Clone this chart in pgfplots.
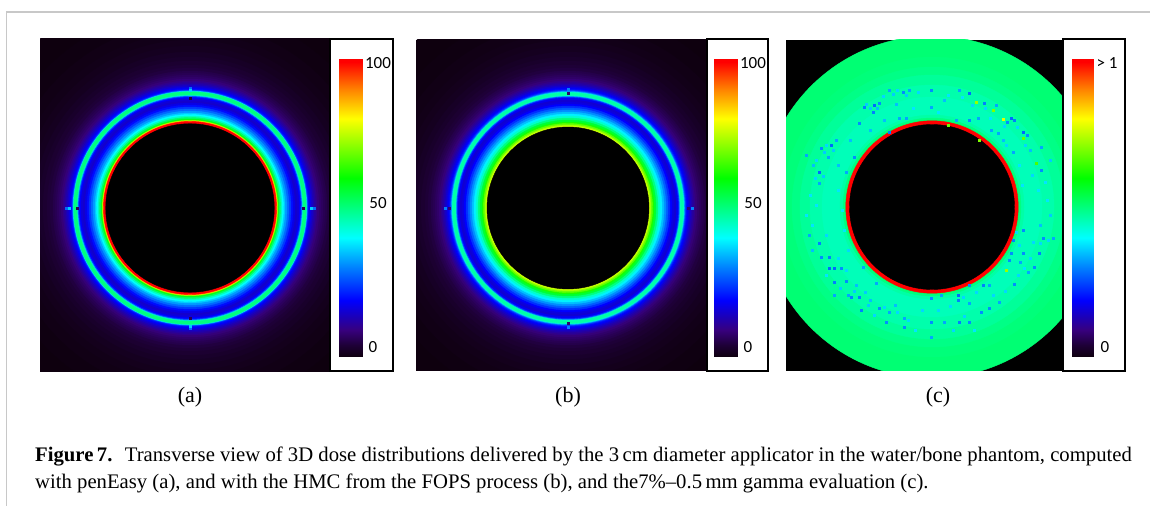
\documentclass[border=0pt]{standalone}
\usepackage{pgfplots}
\usepackage{pgfplotstable}
\usepackage{fontspec}
\pgfplotsset{compat=1.18}
\setmainfont{Liberation Serif}
\newfontfamily\barfont{Carlito}
\pgfplotsset{
  colormap={dose}{rgb255(0cm)=(14,0,14); rgb255(4cm)=(30,0,55); rgb255(9cm)=(55,0,125); rgb255(14cm)=(25,0,190); rgb255(19cm)=(0,0,255); rgb255(30cm)=(0,128,255); rgb255(40cm)=(0,255,255); rgb255(50cm)=(0,255,128); rgb255(60cm)=(0,255,0); rgb255(80cm)=(255,255,0); rgb255(90cm)=(255,128,0); rgb255(99cm)=(255,0,0); rgb255(100cm)=(255,0,0)},
  img/.style={scale only axis, hide axis, y dir=reverse, colormap name=dose, point meta min=0, point meta max=100, anchor=south west},
  discs/.style={scatter, only marks, mark=*, scatter src=explicit,
    mark options={line width=0.4pt},
    scatter/use mapped color={draw=mapped color, fill=mapped color},
    visualization depends on={\thisrow{r}\as\rr},
    scatter/@pre marker code/.append style={/tikz/mark size=\rr pt}},
  specks/.style={scatter, only marks, mark=square*, mark size=1.1pt, scatter src=explicit,
    mark options={line width=0.2pt},
    scatter/use mapped color={draw=mapped color, fill=mapped color}},
  cbar/.style={scale only axis, hide axis, colormap name=dose, point meta min=0, point meta max=100, xmin=0, xmax=1, ymin=0, ymax=100, anchor=south west},
}
\pgfplotstableread{
x y
0 0
1 0
0 100
1 100
}\barT
\pgfplotstableread{
x y r d
190 208 226 0
190 208 200 0.3
190 208 185 0.7
190 208 175 1
190 208 168 1.4
190 208 162 1.8
190 208 156 2.3
190 208 151 2.8
190 208 147 3.4
190 208 143 4
190 208 140 4.6
190 208 137 5.4
190 208 135 6
190 208 133 6.8
190 208 131 7.6
190 208 129 8.6
190 208 127 10
190 208 125.5 11.5
190 208 124 13
190 208 122.5 15
190 208 121 17
190 208 120 18.5
190 208 119 20
190 208 118 23
190 208 117.4 28
190 208 116.8 38
190 208 116.3 50
190 208 112.8 46
190 208 112.2 34
190 208 111.5 24
190 208 110.5 19
190 208 109 16
190 208 107 15
190 208 105 17
190 208 103 20
190 208 101 24
190 208 99 28
190 208 97 32
190 208 95 36
190 208 93.5 40
190 208 92 45
190 208 90.5 52
190 208 89 58
190 208 88 64
190 208 87.5 74
190 208 87 86
190 208 86.5 100
}\profA
\pgfplotstableread{
x y r d
568 208 226 0
568 208 200 0.3
568 208 185 0.7
568 208 175 1
568 208 168 1.4
568 208 162 1.8
568 208 156 2.3
568 208 151 2.8
568 208 147 3.4
568 208 143 4
568 208 140 4.6
568 208 137 5.4
568 208 135 6
568 208 133 6.8
568 208 131 7.6
568 208 129 8.6
568 208 127 10
568 208 125.5 11.5
568 208 124 13
568 208 122.5 15
568 208 121 17
568 208 120 18.5
568 208 119 20
568 208 118 23
568 208 117.2 27
568 208 116.5 34
568 208 115.8 44
568 208 115.2 47
568 208 112.3 45
568 208 111.7 32
568 208 111 23
568 208 110 18
568 208 108 15.5
568 208 106 16.5
568 208 104 19
568 208 102 23
568 208 100 27
568 208 98 31
568 208 96 35
568 208 94 39
568 208 92 44
568 208 90 50
568 208 88 56
568 208 86 62
568 208 84.5 68
568 208 83 73
568 208 82 76
}\profB
\pgfplotstableread{
x y r d
932 207 171 51
932 207 150 50.5
932 207 140 49.5
932 207 132 48
932 207 122 46.5
932 207 110 45.5
932 207 100 45.5
932 207 92 47
932 207 89 50
932 207 87 52
932 207 86.2 100
}\profC
% artefacts on the axes of the dose grid
\pgfplotstableread{
x y d
190 88 28
190 90 36
190 98 4
66 208 28
69 208 36
77 208 6
314 208 28
311 208 36
303 208 6
190 328 28
190 326 36
190 318 6
}\artA
\pgfplotstableread{
x y d
568 89 30
568 93 8
568 327 30
568 323 8
445 208 30
449 208 8
692 208 30
688 208 8
}\artB
\pgfplotstableread{
x y d
889 90 33
903 92 31
909 90 33
864 107 30
874 105 28
879 103 31
873 112 30
859 123 31
899 118 33
906 118 33
889 132 30
831 145 28
836 140 33
821 148 31
806 155 33
828 157 33
854 157 31
819 172 28
846 172 33
819 183 33
813 165 35
838 165 35
896 104 35
884 120 35
870 130 35
850 140 35
931 90 31
931 107 33
959 90 33
969 93 28
984 103 30
996 105 33
969 120 31
956 120 33
978 118 33
1011 118 28
1014 120 30
1007 122 31
991 130 33
998 133 33
1023 132 28
1027 135 31
1013 152 33
1041 147 33
1041 170 31
1030 150 35
1003 140 35
944 100 35
1050 160 36
809 235 33
819 243 30
821 257 31
829 257 30
829 268 28
834 268 28
863 267 33
834 282 30
846 281 31
834 295 33
848 295 33
851 297 30
859 297 30
876 283 33
879 308 31
861 310 30
889 312 33
886 322 31
904 318 33
904 327 31
841 268 31
812 250 35
856 285 35
870 300 35
895 305 35
958 295 28
958 300 30
941 295 33
931 298 31
931 322 31
944 322 33
959 322 30
969 322 31
931 337 33
969 285 31
983 285 30
989 285 33
1014 284 31
969 303 33
989 308 31
981 312 31
999 302 33
1011 253 31
1023 253 31
1039 253 30
1043 238 31
1053 238 33
1013 240 30
1023 230 31
1028 272 33
1034 267 31
1009 260 31
1020 262 33
1040 225 35
1050 215 36
866 104 36
870 108 36
877 108 35
893 94 36
897 90 37
906 95 36
883 96 37
824 152 36
833 150 36
826 145 37
816 160 37
823 176 36
815 178 37
810 195 38
806 215 38
816 205 38
838 190 38
842 210 38
844 230 38
812 225 38
826 235 37
848 250 37
838 258 37
846 270 37
826 275 38
840 288 36
854 291 36
865 292 36
868 305 36
874 315 37
884 307 37
897 312 37
908 320 37
915 330 38
922 310 37
938 310 37
950 306 37
963 297 37
976 292 37
953 330 37
964 316 37
974 330 38
993 295 37
1005 291 37
1018 275 37
1024 268 38
1040 243 37
1048 240 37
1033 242 37
1019 245 37
1030 258 37
1016 232 37
1047 200 38
1038 190 38
1022 185 38
1032 175 37
1045 182 38
1019 165 38
1025 145 37
1006 145 37
1017 127 37
1004 126 37
985 108 37
990 118 38
972 105 37
962 97 38
948 95 38
938 112 38
918 92 37
913 108 38
}\specC
\pgfplotstableread{
x y d
976 102 72
1003 119 78
993 110 70
1036 163 66
979 140 70
1023 138 68
948 125 68
1006 270 72
}\yelC
\begin{document}
\begin{tikzpicture}[x=1pt,y=1pt]
\useasboundingbox (0,0) rectangle (1150,506);
\fill[white] (0,0) rectangle (1150,506);
\draw[color={rgb,255:red,200;green,200;blue,200},line width=1.5pt] (1150,494) -- (6.7,494) -- (6.7,0);
% panel a
\fill[black] (40,134) rectangle (330,467);
\begin{scope}
\clip (40,134) rectangle (330,467);
\begin{axis}[img, at={(40pt,134pt)}, width=290pt, height=333pt, xmin=40, xmax=330, ymin=39, ymax=372]
\addplot[discs] table[x=x,y=y,meta=d] {\profA};
\addplot[only marks, mark=*, mark size=84.3pt, black] coordinates {(190,208)};
\addplot[specks] table[x=x,y=y,meta=d] {\artA};
\end{axis}
\end{scope}
\begin{axis}[cbar, at={(339pt,149pt)}, width=23pt, height=298pt]
\addplot[surf, shader=interp, point meta=y, mesh/cols=2] table[x=x,y=y] {\barT};
\end{axis}
% panel b
\fill[black] (416,135) rectangle (707,466);
\begin{scope}
\clip (416,135) rectangle (707,466);
\begin{axis}[img, at={(416pt,135pt)}, width=291pt, height=331pt, xmin=416, xmax=707, ymin=40, ymax=371]
\addplot[discs] table[x=x,y=y,meta=d] {\profB};
\addplot[only marks, mark=*, mark size=81pt, black] coordinates {(568,208)};
\addplot[specks] table[x=x,y=y,meta=d] {\artB};
\end{axis}
\end{scope}
\begin{axis}[cbar, at={(714pt,149pt)}, width=23pt, height=298pt]
\addplot[surf, shader=interp, point meta=y, mesh/cols=2] table[x=x,y=y] {\barT};
\end{axis}
% panel c
\fill[black] (786,135) rectangle (1063,466);
\begin{scope}
\clip (786,135) rectangle (1063,466);
\begin{axis}[img, at={(786pt,135pt)}, width=277pt, height=331pt, xmin=786, xmax=1063, ymin=40, ymax=371]
\addplot[discs] table[x=x,y=y,meta=d] {\profC};
\addplot[only marks, mark=*, mark size=82.5pt, black] coordinates {(932,207)};
\addplot[specks] table[x=x,y=y,meta=d] {\specC};
\addplot[specks] table[x=x,y=y,meta=d] {\yelC};
\end{axis}
\end{scope}
\begin{axis}[cbar, at={(1072pt,149pt)}, width=21pt, height=298pt]
\addplot[surf, shader=interp, point meta=y, mesh/cols=2] table[x=x,y=y] {\barT};
\end{axis}
% boxes round the colour bars
\draw[black,line width=2pt] (330,134.5) rectangle (393,467);
\draw[black,line width=2pt] (707,134.5) rectangle (768,467);
\draw[black,line width=2pt] (1063,134.5) rectangle (1125,467);
\begin{scope}[every node/.style={font=\barfont\fontsize{17}{17}\selectfont, inner sep=0pt}]
\node at (378,443) {100};
\node at (378,303) {50};
\node at (373,159) {0};
\node at (753,443) {100};
\node at (753,303) {50};
\node at (748,159) {0};
\node at (1107,443) {> 1};
\node at (1105,159) {0};
\end{scope}
\begin{scope}[every node/.style={font=\fontsize{22}{22}\selectfont, inner sep=0pt}]
\node at (190,109) {(a)};
\node at (568,109) {(b)};
\node at (938,109) {(c)};
\end{scope}
\node[anchor=base west, inner sep=0pt, font=\fontsize{20.7}{20.7}\selectfont] at (35,45) {\textbf{Figure\,7.}\hspace{0.6em}Transverse view of 3D dose distributions delivered by the 3\,cm diameter applicator in the water/bone phantom, computed};
\node[anchor=base west, inner sep=0pt, font=\fontsize{20.7}{20.7}\selectfont] at (35,18) {with penEasy (a), and with the HMC from the FOPS process (b), and the7\%–0.5\,mm gamma evaluation (c).};
\end{tikzpicture}
\end{document}
